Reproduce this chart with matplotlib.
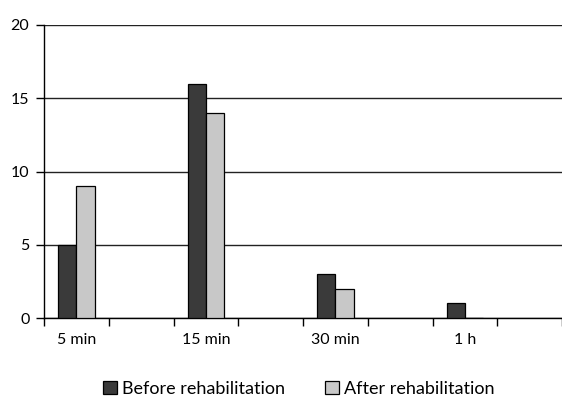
import matplotlib
matplotlib.use("Agg")
import matplotlib.pyplot as plt
from matplotlib.patches import Patch

# Datos
categories = ["5 min", "15 min", "30 min", "1 h"]
before = [5, 16, 3, 1]
after = [9, 14, 2, 0]
series_names = ["Before rehabilitation", "After rehabilitation"]
y_ticks = [0, 5, 10, 15, 20]

dark = "#3a3a3a"
light = "#c8c8c8"

plt.rcParams['font.family'] = ['Lato', 'DejaVu Sans']
plt.rcParams['font.size'] = 11.5

fig = plt.figure(figsize=(5.62, 3.99), dpi=100)
ax = fig.add_axes([44 / 562, 1 - 318 / 399, 1 - 44 / 562, (318 - 25) / 399])

# Cada categoría ocupa dos huecos del eje (el segundo queda vacío)
w = 0.28
pos = [i * 2 + 0.5 for i in range(len(categories))]
ax.bar([p - w / 2 for p in pos], before, w, color=dark, edgecolor="black", linewidth=0.9, zorder=3)
ax.bar([p + w / 2 for p in pos], after, w, color=light, edgecolor="black", linewidth=0.9, zorder=3)

ax.set_xlim(0, len(categories) * 2)
ax.set_ylim(0, 20)
ax.set_yticks(y_ticks)
ax.set_xticks(range(len(categories) * 2 + 1))
ax.set_xticklabels([])
ax.set_xticks(pos, minor=True)
ax.set_xticklabels(categories, minor=True)
ax.tick_params(axis='x', which='minor', length=0, pad=11)
ax.tick_params(axis='x', which='major', length=6, width=1, direction='out', color='black')
ax.tick_params(axis='y', length=5.5, width=1, pad=5, color='black')

ax.grid(axis='y', color='#222222', linewidth=1.0, zorder=0)
for s in ["top", "right"]:
    ax.spines[s].set_visible(False)
ax.spines["left"].set_color("black")
ax.spines["bottom"].set_color("black")
ax.spines["left"].set_linewidth(1)
ax.spines["bottom"].set_linewidth(1)

handles = [Patch(facecolor=dark, edgecolor="black", linewidth=0.9),
           Patch(facecolor=light, edgecolor="black", linewidth=0.9)]
fig.legend(handles, series_names, loc="center", bbox_to_anchor=(299 / 562, 1 - 389 / 399),
           ncol=2, frameon=False, fontsize=13, handlelength=0.75, handleheight=0.75,
           handletextpad=0.3, columnspacing=2.2)

fig.savefig("out.png", dpi=100)
